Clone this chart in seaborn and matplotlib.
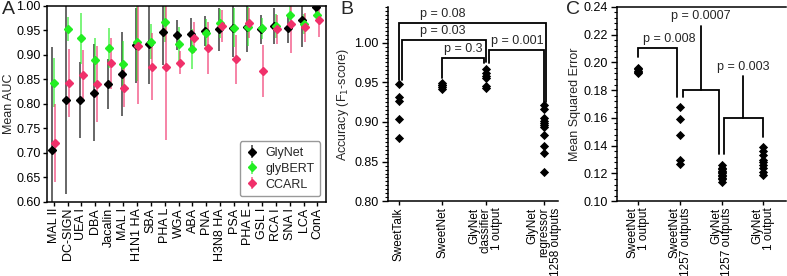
import numpy as np
import pandas as pd
import matplotlib
matplotlib.use('Agg')
import matplotlib.pyplot as plt
import seaborn as sns
from matplotlib.ticker import MultipleLocator, FormatStrFormatter

# ---- Panel A data (mean AUC +/- sd per lectin) ----
lectins = ['MAL II', 'DC-SIGN', 'UEA I', 'DBA', 'Jacalin', 'MAL I', 'H1N1 HA', 'SBA',
           'PHA L', 'WGA', 'ABA', 'PNA', 'H3N8 HA', 'PSA', 'PHA E', 'GSL I', 'RCA I',
           'SNA I', 'LCA', 'ConA']
glynet_auc = [0.705, 0.808, 0.808, 0.822, 0.840, 0.861, 0.919, 0.921, 0.946, 0.940,
              0.942, 0.948, 0.952, 0.954, 0.957, 0.952, 0.959, 0.954, 0.971, 0.998]
glynet_err = [0.210, 0.193, 0.077, 0.099, 0.051, 0.085, 0.077, 0.081, 0.067, 0.030,
              0.034, 0.031, 0.044, 0.059, 0.052, 0.030, 0.037, 0.030, 0.055, 0.020]
glybert_auc = [0.843, 0.953, 0.934, 0.889, 0.914, 0.882, 0.927, 0.927, 0.967, 0.922,
               0.912, 0.944, 0.964, 0.955, 0.957, 0.954, 0.959, 0.981, 0.963, 0.981]
glybert_err = [0.050, 0.024, 0.052, 0.046, 0.041, 0.047, 0.080, 0.036, 0.040, 0.035,
               0.040, 0.030, 0.030, 0.040, 0.040, 0.022, 0.025, 0.020, 0.020, 0.015]
ccarl_auc = [0.720, 0.842, 0.859, 0.840, 0.883, 0.833, 0.917, 0.876, 0.876, 0.884,
             0.935, 0.914, 0.959, 0.891, 0.965, 0.867, 0.952, 0.963, 0.956, 0.971]
ccarl_err = [0.080, 0.069, 0.050, 0.078, 0.052, 0.040, 0.117, 0.068, 0.149, 0.023,
             0.032, 0.053, 0.032, 0.050, 0.030, 0.053, 0.030, 0.060, 0.030, 0.034]

# ---- Panel B data (F1 per replicate) ----
b_labels = ['SweetTalk', 'SweetNet', 'GlyNet\nclassifier\n1 output', 'GlyNet\nregressor\n1258 outputs']
b_pos = [0, 1, 2, 3.33]
sweettalk_f1 = [0.948, 0.931, 0.926, 0.904, 0.880]
sweetnet_f1 = [0.949, 0.947, 0.946, 0.944, 0.942]
glynet_clf_f1 = [0.967, 0.962, 0.958, 0.956, 0.945, 0.943]
glynet_reg_f1 = [0.921, 0.916, 0.905, 0.901, 0.899, 0.896, 0.893, 0.883, 0.870, 0.861, 0.837]

# ---- Panel C data (MSE per replicate) ----
c_labels = ['SweetNet\n1 output', 'SweetNet\n1257 outputs', 'GlyNet\n1257 outputs', 'GlyNet\n1 output']
c_pos = [0, 1, 2, 3]
sweetnet1_mse = [0.196, 0.195, 0.194, 0.193, 0.192]
sweetnet1257_mse = [0.168, 0.159, 0.148, 0.130, 0.127]
glynet1257_mse = [0.126, 0.124, 0.123, 0.122, 0.121, 0.120, 0.119, 0.118, 0.117, 0.116, 0.114]
glynet1_mse = [0.139, 0.136, 0.133, 0.130, 0.128, 0.126, 0.124, 0.121, 0.119]

# significance brackets: polyline x, polyline y, label, label x, label y
b_brackets = [
    ([0.0, 0.0, 3.38, 3.38], [0.953, 1.025, 1.025, 0.925], 'p = 0.08', 1.0, 1.029),
    ([0.07, 0.07, 2.0, 2.0], [0.953, 1.003, 1.003, 0.976], 'p = 0.03', 1.0, 1.007),
    ([1.0, 1.0, 1.95, 1.95], [0.956, 0.980, 0.980, 0.974], 'p = 0.3', 1.47, 0.984),
    ([2.08, 2.08, 3.34, 3.34], [0.974, 0.991, 0.991, 0.925], 'p = 0.001', 2.72, 0.995),
]
c_brackets = [
    ([0.0, 0.0, 0.93, 0.93], [0.204, 0.2105, 0.2105, 0.175], 'p = 0.008', 0.75, 0.2128),
    ([1.06, 1.06, 1.93, 1.93], [0.175, 0.180, 0.180, 0.134], None, 0, 0),
    ([1.51, 1.51], [0.180, 0.226], 'p = 0.0007', 1.5, 0.2288),
    ([2.05, 2.05, 3.0, 3.0], [0.134, 0.160, 0.160, 0.146], None, 0, 0),
    ([2.51, 2.51], [0.160, 0.190], 'p = 0.003', 2.51, 0.1925),
]

sns.set_theme(style='ticks')
plt.rcParams['font.family'] = ['Liberation Sans', 'DejaVu Sans']
plt.rcParams['axes.linewidth'] = 1.1
plt.rcParams['xtick.major.width'] = 1.0
plt.rcParams['ytick.major.width'] = 1.0
plt.rcParams['xtick.major.size'] = 3
plt.rcParams['ytick.major.size'] = 3
plt.rcParams['ytick.minor.size'] = 2
plt.rcParams['ytick.minor.width'] = 0.8
plt.rcParams['xtick.major.pad'] = 1.5
plt.rcParams['ytick.major.pad'] = 1.2
plt.rcParams['xtick.labelsize'] = 9
plt.rcParams['ytick.labelsize'] = 9
plt.rcParams['xtick.color'] = 'black'
plt.rcParams['ytick.color'] = 'black'
plt.rcParams['axes.edgecolor'] = 'black'

fig = plt.figure(figsize=(7.87, 2.76), dpi=100)

# ---------------- A ----------------
ax_a = fig.add_axes([0.0593, 0.269, 0.3547, 0.710])
x = np.arange(len(lectins))
series = [('GlyNet', glynet_auc, glynet_err, '#000000', -0.1),
          ('glyBERT', glybert_auc, glybert_err, '#22ee22', 0.0),
          ('CCARL', ccarl_auc, ccarl_err, '#f0306a', 0.1)]
for name, vals, errs, col, off in series:
    ax_a.errorbar(x + off, vals, yerr=errs, fmt='D', color=col, markersize=4,
                  elinewidth=1.4, ecolor=matplotlib.colors.to_rgba(col, 0.6),
                  capsize=0, label=name)
ax_a.set_xlim(-0.5, 19.6)
ax_a.set_ylim(0.60, 1.00)
ax_a.yaxis.set_major_locator(MultipleLocator(0.05))
ax_a.yaxis.set_major_formatter(FormatStrFormatter('%.2f'))
ax_a.set_xticks(x)
ax_a.set_xticklabels(lectins, rotation=90)
ax_a.set_ylabel('Mean AUC', fontsize=9, labelpad=1)
leg = ax_a.legend(loc='lower right', fontsize=9, handlelength=1.0, handletextpad=0.6,
                  frameon=True, fancybox=True, framealpha=1, edgecolor='#999999',
                  borderaxespad=0.45, labelspacing=0.3, borderpad=0.45)
leg.get_frame().set_linewidth(1.0)

# ---------------- B ----------------
ax_b = fig.add_axes([0.4926, 0.2707, 0.2164, 0.7043])
df_b = pd.DataFrame({
    'pos': np.concatenate([[b_pos[i]] * len(v) for i, v in
                           enumerate([sweettalk_f1, sweetnet_f1, glynet_clf_f1, glynet_reg_f1])]),
    'f1': np.concatenate([sweettalk_f1, sweetnet_f1, glynet_clf_f1, glynet_reg_f1]),
})
sns.scatterplot(data=df_b, x='pos', y='f1', marker='D', color='black', s=22,
                edgecolor='black', linewidth=0, ax=ax_b, zorder=3)
for xs, ys, lab, lx, ly in b_brackets:
    ax_b.plot(xs, ys, color='black', lw=1.3, solid_joinstyle='miter')
    if lab:
        ax_b.text(lx, ly, lab, ha='center', va='bottom', fontsize=9)
ax_b.set_xlim(-0.25, 3.65)
ax_b.set_ylim(0.80, 1.045)
ax_b.set_yticks([0.80, 0.85, 0.90, 0.95, 1.00])
ax_b.yaxis.set_minor_locator(MultipleLocator(0.005))
ax_b.yaxis.set_major_formatter(FormatStrFormatter('%.2f'))
ax_b.tick_params(axis='y', which='major', length=4, pad=2.5)
ax_b.set_xticks(b_pos)
ax_b.set_xticklabels(b_labels, rotation=90, linespacing=0.95, fontsize=8.5)
for t in ax_b.get_xticklabels():
    t.set_multialignment('right')
ax_b.set_xlabel('')
ax_b.set_ylabel('Accuracy (F$_1$-score)', fontsize=9, labelpad=2)
sns.despine(ax=ax_b)

# ---------------- C ----------------
ax_c = fig.add_axes([0.7836, 0.2707, 0.2154, 0.705])
df_c = pd.DataFrame({
    'pos': np.concatenate([[c_pos[i]] * len(v) for i, v in
                           enumerate([sweetnet1_mse, sweetnet1257_mse, glynet1257_mse, glynet1_mse])]),
    'mse': np.concatenate([sweetnet1_mse, sweetnet1257_mse, glynet1257_mse, glynet1_mse]),
})
sns.scatterplot(data=df_c, x='pos', y='mse', marker='D', color='black', s=22,
                edgecolor='black', linewidth=0, ax=ax_c, zorder=3)
for xs, ys, lab, lx, ly in c_brackets:
    ax_c.plot(xs, ys, color='black', lw=1.3, solid_joinstyle='miter')
    if lab:
        ax_c.text(lx, ly, lab, ha='center', va='bottom', fontsize=9)
ax_c.set_xlim(-0.52, 3.55)
ax_c.set_ylim(0.10, 0.24)
ax_c.yaxis.set_major_locator(MultipleLocator(0.02))
ax_c.yaxis.set_minor_locator(MultipleLocator(0.004))
ax_c.yaxis.set_major_formatter(FormatStrFormatter('%.2f'))
ax_c.tick_params(axis='y', which='major', length=4, pad=2.5)
ax_c.set_xticks(c_pos)
ax_c.set_xticklabels(c_labels, rotation=90, linespacing=0.95, fontsize=8.5)
for t in ax_c.get_xticklabels():
    t.set_multialignment('right')
ax_c.set_xlabel('')
ax_c.set_ylabel('Mean Squared Error', fontsize=9, labelpad=2)
ax_c.spines['right'].set_visible(False)

# panel letters
fig.text(0.002, 0.998, 'A', fontsize=14, va='top', ha='left')
fig.text(0.433, 0.998, 'B', fontsize=14, va='top', ha='left')
fig.text(0.719, 0.998, 'C', fontsize=14, va='top', ha='left')

fig.savefig('out.png', dpi=100)
